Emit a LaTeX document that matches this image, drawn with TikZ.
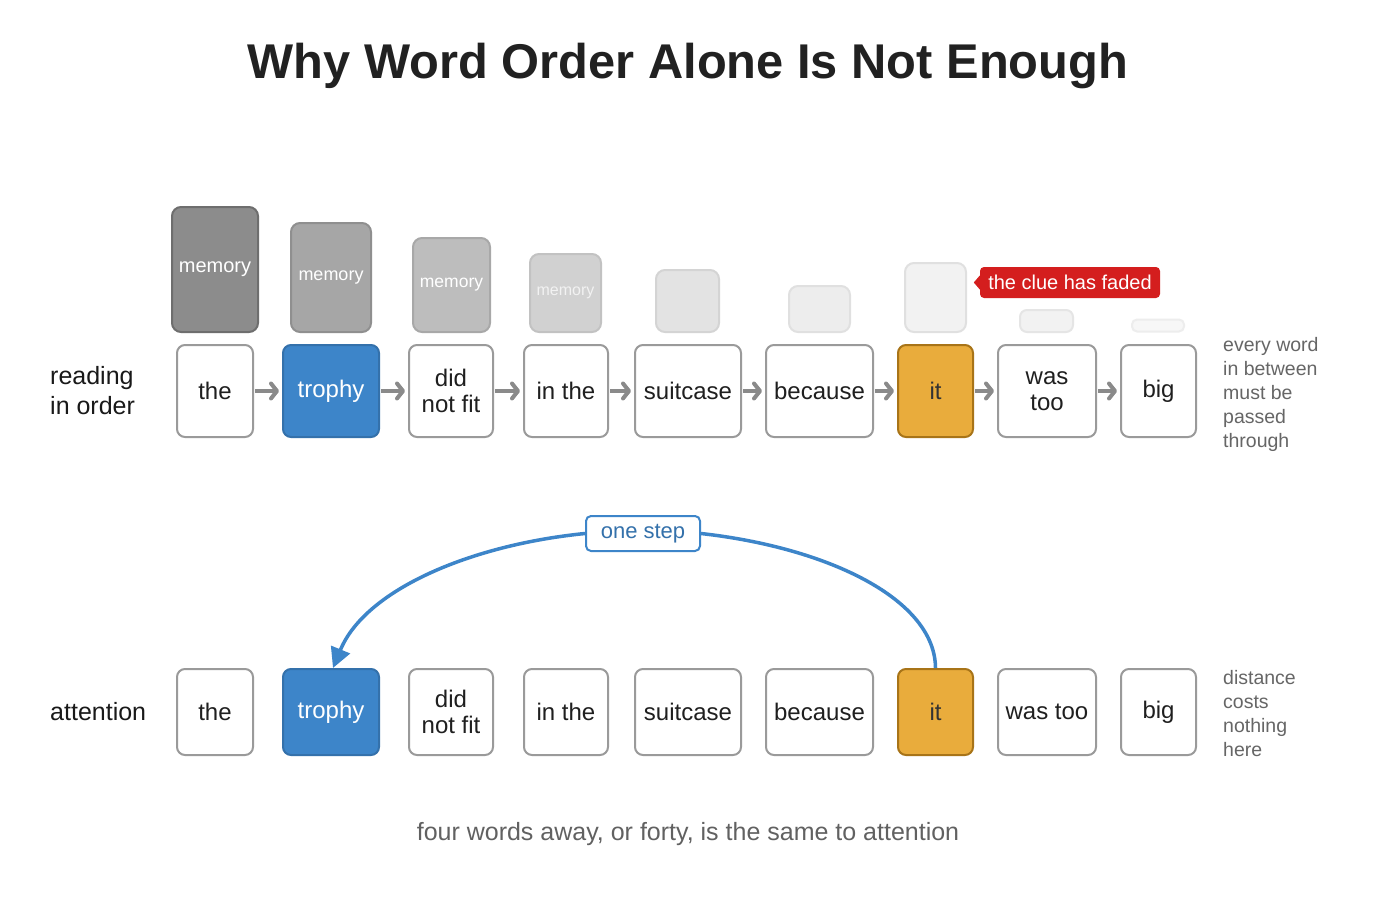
\documentclass[tikz,border=0pt]{standalone}
\usepackage{fontspec}
\setmainfont{Liberation Sans}
\usetikzlibrary{arrows.meta}
\definecolor{wborder}{HTML}{9A9A9A}
\definecolor{tblue}{HTML}{3D85C9}
\definecolor{torange}{HTML}{E9AC3C}
\definecolor{oborder}{HTML}{A87418}
\definecolor{arrgray}{HTML}{8A8A8A}
\definecolor{sidegray}{HTML}{666666}
\definecolor{cluered}{HTML}{D41E1E}
\tikzset{
  x=1pt, y=-1pt,
  wbox/.style={draw=wborder, line width=2pt, rounded corners=8pt, fill=white, align=center,
    inner sep=0pt, font=\fontsize{24}{26}\selectfont, text=black!88},
  bluebox/.style={wbox, fill=tblue, draw=tblue!85!black, text=white},
  orangebox/.style={wbox, fill=torange, draw=oborder, text=black!80},
  flow/.style={draw=arrgray, line width=4pt, -{Straight Barb[length=6pt,width=15pt,round]}, shorten <=1pt, shorten >=3pt},
  memo/.style={rounded corners=9pt, line width=2pt, inner sep=0pt, text=white},
  rowlabel/.style={anchor=west, align=left, font=\fontsize{25}{30}\selectfont, text=black!90, inner sep=0pt},
  sidenote/.style={anchor=north west, align=left, font=\fontsize{19.5}{24}\selectfont, text=sidegray, inner sep=0pt},
}
\begin{document}
\begin{tikzpicture}
\useasboundingbox[fill=white] (0,0) rectangle (1376,899);

\node[font=\bfseries\fontsize{48.8}{52}\selectfont, text=black!87] (title) at (688,66) {Why Word Order Alone Is Not Enough};

% memory boxes
\node[memo, fill=black!45, draw=black!57, minimum width=86, minimum height=125, font=\fontsize{20}{22}\selectfont] (m1) at (215,269.5) {memory};
\node[memo, fill=black!35, draw=black!44, minimum width=80, minimum height=109, font=\fontsize{18}{20}\selectfont] (m2) at (331,277.5) {memory};
\node[memo, fill=black!26, draw=black!34, minimum width=77, minimum height=94, font=\fontsize{17.5}{19}\selectfont] (m3) at (451.5,285) {memory};
\node[memo, fill=black!18, draw=black!24, minimum width=71, minimum height=78, font=\fontsize{16}{18}\selectfont, text=white!95!black] (m4) at (565.5,293) {memory};
\node[memo, fill=black!11, draw=black!17, minimum width=63, minimum height=62] (m5) at (687.5,301) {};
\node[memo, fill=black!7, draw=black!12, minimum width=61, minimum height=46] (m6) at (819.5,309) {};
\node[memo, fill=black!5, draw=black!12, minimum width=61, minimum height=69] (m7) at (935.5,297.5) {};
\node[memo, rounded corners=7pt, fill=black!5, draw=black!10, minimum width=53, minimum height=22] (m8) at (1046.5,321) {};
\node[memo, rounded corners=5pt, fill=black!3, draw=black!7, minimum width=52, minimum height=12] (m9) at (1158,325.5) {};

% clue callout
\node[fill=cluered, rounded corners=4pt, text=white, font=\fontsize{20}{22}\selectfont, minimum width=180, minimum height=31, inner sep=0pt] (clue) at (1070,282.5) {the clue has faded};
\fill[cluered] ([yshift=7]clue.west) -- ([xshift=-6]clue.west) -- ([yshift=-7]clue.west) -- cycle;

% row 1
\node[rowlabel] (lab1) at (50,391) {reading\\in order};
\node[wbox, minimum width=76, minimum height=92] (a1) at (215,391) {the};
\node[bluebox, minimum width=96, minimum height=92] (a2) at (331,391) {trophy};
\node[wbox, minimum width=84, minimum height=92] (a3) at (451,391) {did\\not fit};
\node[wbox, minimum width=84, minimum height=92] (a4) at (566,391) {in the};
\node[wbox, minimum width=106, minimum height=92] (a5) at (688,391) {suitcase};
\node[wbox, minimum width=107, minimum height=92] (a6) at (819.5,391) {because};
\node[orangebox, minimum width=75, minimum height=92] (a7) at (935.5,391) {it};
\node[wbox, minimum width=98, minimum height=92] (a8) at (1047,391) {was\\too};
\node[wbox, minimum width=75, minimum height=92] (a9) at (1158.5,391) {big};
\foreach \i/\j in {1/2,2/3,3/4,4/5,5/6,6/7,7/8,8/9}
  \draw[flow] (a\i.east) -- (a\j.west);
\node[sidenote] (note1) at (1223,337) {every word\\in between\\must be\\passed\\through};

% row 2
\node[rowlabel] (lab2) at (50,712) {attention};
\node[wbox, minimum width=76, minimum height=86] (b1) at (215,712) {the};
\node[bluebox, minimum width=96, minimum height=86] (b2) at (331,712) {trophy};
\node[wbox, minimum width=84, minimum height=86] (b3) at (451,712) {did\\not fit};
\node[wbox, minimum width=84, minimum height=86] (b4) at (566,712) {in the};
\node[wbox, minimum width=106, minimum height=86] (b5) at (688,712) {suitcase};
\node[wbox, minimum width=107, minimum height=86] (b6) at (819.5,712) {because};
\node[orangebox, minimum width=75, minimum height=86] (b7) at (935.5,712) {it};
\node[wbox, minimum width=98, minimum height=86] (b8) at (1047,712) {was too};
\node[wbox, minimum width=75, minimum height=86] (b9) at (1158.5,712) {big};
\node[sidenote] (note2) at (1223,670) {distance\\costs\\nothing\\here};

% attention arc
\node[draw=tblue, line width=2pt, rounded corners=5pt, fill=white, text=tblue!85!black, font=\fontsize{22}{24}\selectfont, minimum width=114, minimum height=35, inner sep=0pt] (step) at (643,533.5) {one step};
\draw[tblue, line width=3.5pt] (b7.north) .. controls (935,600) and (830,548) .. (step.east);
\draw[tblue, line width=3.5pt, -{Triangle[length=20pt,width=20pt]}] (step.west) .. controls (470,545) and (365,590) .. ([xshift=2]b2.north);

\node[font=\fontsize{25}{28}\selectfont, text=black!62] (caption) at (688,834) {four words away, or forty, is the same to attention};
\end{tikzpicture}
\end{document}
